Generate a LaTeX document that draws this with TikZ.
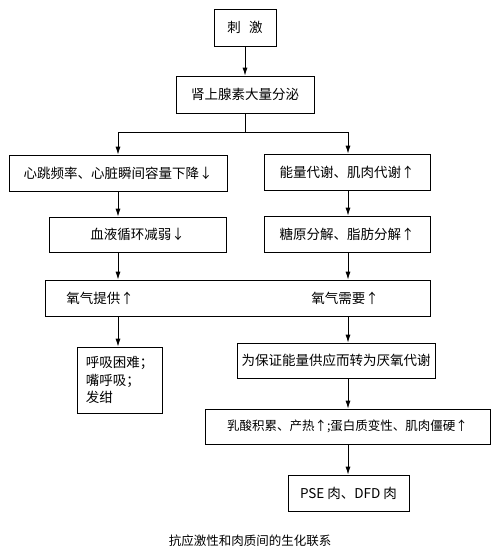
\documentclass[tikz,border=0pt]{standalone}
\usepackage{fontspec}
\setmainfont{Noto Sans CJK SC}
\usetikzlibrary{arrows.meta}
\begin{document}
\begin{tikzpicture}[x=1pt,y=-1pt,
  box/.style={draw, line width=0.8pt, inner sep=0pt, font=\fontsize{13.5}{17.5}\selectfont},
  arr/.style={line width=0.8pt, -{Latex[length=8pt,width=5pt]}},
  lbl/.style={inner sep=0pt, font=\fontsize{13.5}{17.5}\selectfont}]
\useasboundingbox[fill=white] (0,0) rectangle (500,557);
\coordinate (xl) at (118,0);
\coordinate (xr) at (348,0);
\coordinate (j) at (245,132);
\node[box, minimum width=62pt, minimum height=37pt] (b1) at (245,27.5) {刺\hspace{0.6em}激};
\node[box, minimum width=138pt, minimum height=37pt] (b2) at (245,94.5) {肾上腺素大量分泌};
\node[box, minimum width=218pt, minimum height=36pt] (b3L) at (118,173) {心跳频率、心脏瞬间容量下降↓};
\node[box, minimum width=166pt, minimum height=36pt] (b3R) at (347,172) {能量代谢、肌肉代谢↑};
\node[box, minimum width=177pt, minimum height=35pt] (b4L) at (137.5,234.5) {血液循环减弱↓};
\node[box, minimum width=166pt, minimum height=36pt] (b4R) at (347,234) {糖原分解、脂肪分解↑};
\node[box, minimum width=385pt, minimum height=36pt] (b5) at (237.5,298) {};
\node[lbl] (t1) at (100,298) {氧气提供↑};
\node[lbl] (t2) at (345,298) {氧气需要↑};
\node[box, minimum width=85pt, minimum height=66pt, align=left] (b6L) at (119.5,380) {呼吸困难；\\嘴呼吸；\\发绀};
\node[box, minimum width=198pt, minimum height=35pt] (b6R) at (336,360.5) {为保证能量供应而转为厌氧代谢};
\node[box, minimum width=285pt, minimum height=35pt, font=\fontsize{12.5}{15}\selectfont] (b7) at (347.5,426.5) {乳酸积累、产热↑;蛋白质变性、肌肉僵硬↑};
\node[box, minimum width=121pt, minimum height=36pt] (b8) at (348.5,493) {PSE 肉、DFD 肉};
\node[inner sep=0pt, font=\fontsize{12.5}{15}\selectfont] (cap) at (250,541) {抗应激性和肉质间的生化联系};
\draw[arr] (b1) -- (b2);
\draw[line width=0.8pt] (b2.south) -- (j);
\draw[arr] (j) -| (b3L.north);
\draw[arr] (j) -| (b3R.north -| xr);
\draw[arr] (b3L.south -| xl) -- (b4L.north -| xl);
\draw[arr] (b3R.south -| xr) -- (b4R.north -| xr);
\draw[arr] (b4L.south -| xl) -- (b5.north -| xl);
\draw[arr] (b4R.south -| xr) -- (b5.north -| xr);
\draw[arr] (b5.south -| xl) -- (b6L.north -| xl);
\draw[arr] (b5.south -| xr) -- (b6R.north -| xr);
\draw[arr] (b6R.south -| xr) -- (b7.north -| xr);
\draw[arr] (b7.south -| xr) -- (b8.north -| xr);
\end{tikzpicture}
\end{document}
